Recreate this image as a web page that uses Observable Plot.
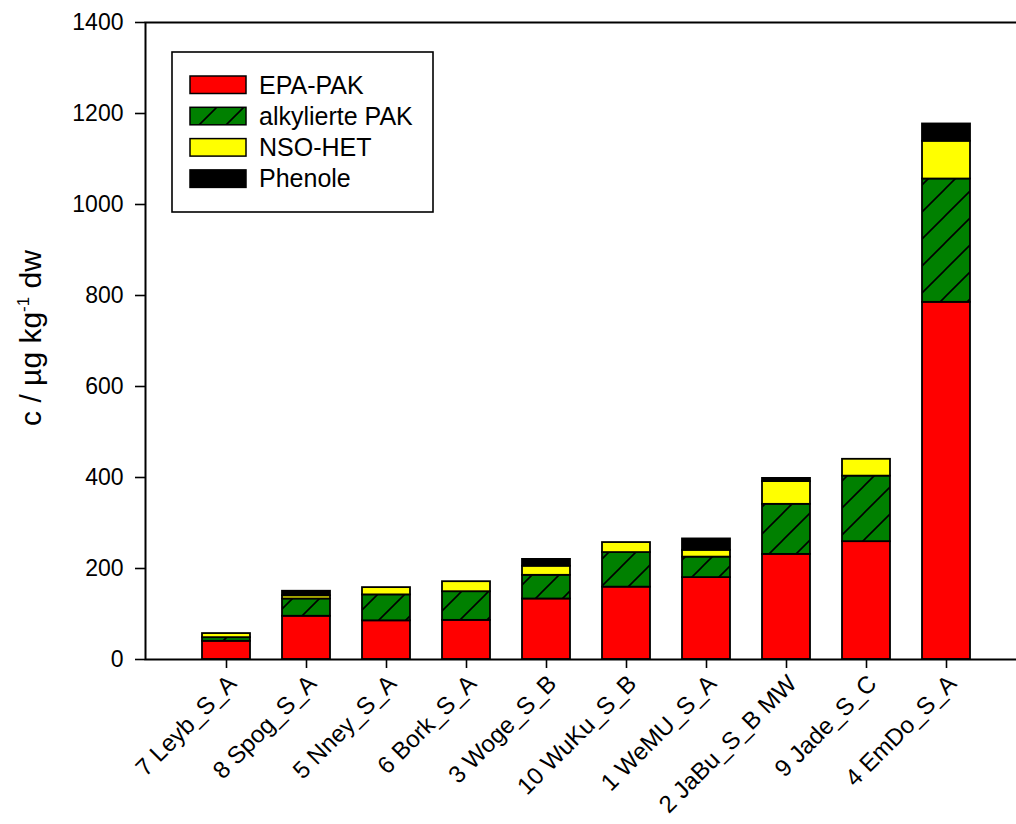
<!DOCTYPE html>
<html><head><meta charset="utf-8">
<script src="https://cdn.jsdelivr.net/npm/d3@7"></script>
<script src="https://cdn.jsdelivr.net/npm/@observablehq/plot@0.6"></script>
<style>
html,body{margin:0;padding:0;background:#fff}
#chart{position:relative;width:1016px;height:824px;overflow:hidden}
</style>
</head><body><div id="chart"></div>
<script>
// ---- data ----
const categories = ["7 Leyb_S_A","8 Spog_S_A","5 Nney_S_A","6 Bork_S_A","3 Woge_S_B","10 WuKu_S_B","1 WeMU_S_A","2 JaBu_S_B MW","9 Jade_S_C","4 EmDo_S_A"];
const series = ["EPA-PAK","alkylierte PAK","NSO-HET","Phenole"];
const epaPak   = [40, 95, 85, 86, 133, 159, 180, 231, 259, 785];
const alkylPak = [8, 38, 57, 63, 52, 76, 45, 110, 144, 271];
const nsoHet   = [9, 7, 16, 22, 20, 22, 15, 50, 37, 83];
const phenole  = [0, 10, 0, 0, 15, 0, 25, 7, 0, 38];
const yTicks = [0, 200, 400, 600, 800, 1000, 1200, 1400];
const seriesFills = ["#ff0000", "url(#hatch)", "#ffff00", "#000000"];

const seriesValues = [epaPak, alkylPak, nsoHet, phenole];
const rows = series.flatMap((s, i) => categories.map((c, j) => ({category: c, series: s, value: seriesValues[i][j]})))
  .filter(d => d.value > 0);

const font = "'Liberation Sans', Arial, sans-serif";

const chart = Plot.plot({
  width: 1016, height: 824,
  marginLeft: 145, marginRight: -4, marginTop: 22, marginBottom: 165,
  style: {fontFamily: font, fontSize: "23px", color: "#000", background: "#fff", overflow: "visible"},
  x: {domain: categories, range: [185, 987], paddingInner: 0.4, paddingOuter: 0.2, label: null},
  y: {domain: [0, 1400], label: null},
  color: {domain: series, range: seriesFills},
  marks: [
    Plot.barY(rows, {x: "category", y: "value", fill: "series", stroke: "#000", strokeWidth: 1.8}),
    Plot.frame({stroke: "#000", strokeWidth: 2}),
    Plot.axisY({ticks: yTicks, tickSize: 10, tickPadding: 12, tickFormat: d => String(d), label: null, strokeWidth: 1.6}),
    Plot.axisX({tickSize: 9, tickRotate: -45, tickPadding: 11, label: null, strokeWidth: 1.6})
  ]
});

document.getElementById("chart").appendChild(chart);

const svg = d3.select(chart);
svg.selectAll("g[aria-label='x-axis tick label']")
  .attr("font-size", 24)
  .attr("transform", function() {
    const t = this.getAttribute("transform") || "";
    return "translate(6,0) " + t;
  });

// hatch pattern
const defs = svg.insert("defs", ":first-child");
const pat = defs.append("pattern").attr("id", "hatch").attr("patternUnits", "userSpaceOnUse")
  .attr("width", 27).attr("height", 27);
pat.append("rect").attr("width", 27).attr("height", 27).attr("fill", "#008000");
pat.append("path").attr("d", "M-2,29 L29,-2 M-15,15 L15,-15 M12,42 L42,12")
  .attr("stroke", "#000").attr("stroke-width", 1.6);

// y axis title
const yt = svg.append("text")
  .attr("transform", "translate(41,338) rotate(-90)")
  .attr("text-anchor", "middle")
  .attr("font-family", font).attr("font-size", 30).attr("fill", "#000");
yt.append("tspan").text("c / µg kg");
yt.append("tspan").attr("font-size", 17).attr("dy", -12).text("-1");
yt.append("tspan").attr("dy", 12).text(" dw");

// legend
const lg = svg.append("g").attr("text-anchor", "start");
lg.append("rect").attr("x", 172).attr("y", 52).attr("width", 261).attr("height", 160)
  .attr("fill", "#fff").attr("stroke", "#000").attr("stroke-width", 1.6);
series.forEach((s, i) => {
  const y0 = 76 + i * 31.3;
  lg.append("rect").attr("x", 190).attr("y", y0).attr("width", 56).attr("height", 17.5)
    .attr("fill", seriesFills[i]).attr("stroke", "#000").attr("stroke-width", 1.5);
  lg.append("text").attr("x", 259).attr("y", y0 + 8.75).attr("dy", "0.35em")
    .attr("text-anchor", "start")
    .attr("font-family", font).attr("font-size", 25).attr("fill", "#000").text(s);
});
</script>
</body></html>
